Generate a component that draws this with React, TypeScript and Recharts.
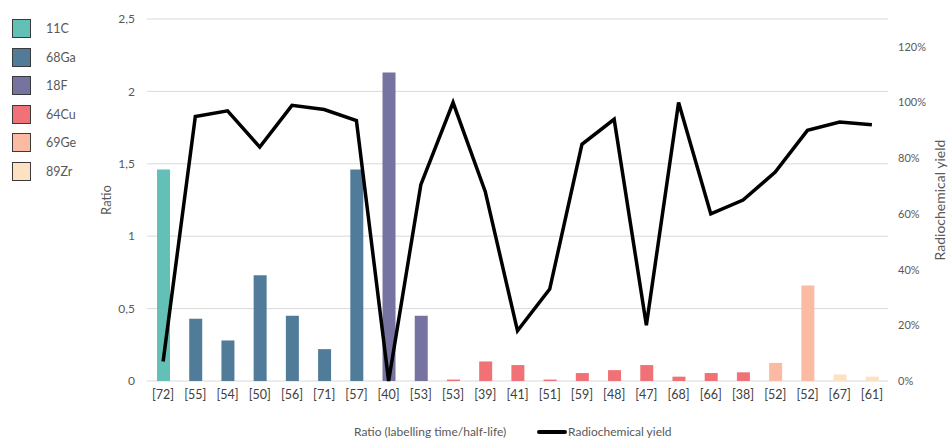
import React from 'react';
import { ComposedChart, Bar, Line, Cell, XAxis, YAxis, CartesianGrid } from 'recharts';

const categories = ['[72]', '[55]', '[54]', '[50]', '[56]', '[71]', '[57]', '[40]', '[53]', '[53]', '[39]', '[41]', '[51]', '[59]', '[48]', '[47]', '[68]', '[66]', '[38]', '[52]', '[52]', '[67]', '[61]'];
const isotopes = ['11C', '68Ga', '68Ga', '68Ga', '68Ga', '68Ga', '68Ga', '18F', '18F', '64Cu', '64Cu', '64Cu', '64Cu', '64Cu', '64Cu', '64Cu', '64Cu', '64Cu', '64Cu', '69Ge', '69Ge', '89Zr', '89Zr'];
const ratios = [1.46, 0.43, 0.28, 0.73, 0.45, 0.22, 1.46, 2.13, 0.45, 0.01, 0.135, 0.11, 0.01, 0.055, 0.075, 0.11, 0.03, 0.055, 0.06, 0.125, 0.66, 0.045, 0.03];
const yields = [0.07, 0.95, 0.97, 0.84, 0.99, 0.975, 0.935, 0, 0.705, 1.0, 0.68, 0.18, 0.33, 0.85, 0.94, 0.2, 1.0, 0.6, 0.65, 0.75, 0.9, 0.93, 0.92];

const legendIsotopes = ['11C', '68Ga', '18F', '64Cu', '69Ge', '89Zr'];
const isotopeColors: Record<string, string> = {
  '11C': '#63c0b6',
  '68Ga': '#517c99',
  '18F': '#7773a0',
  '64Cu': '#f07276',
  '69Ge': '#fbbba2',
  '89Zr': '#fde1c3',
};

const ratioTicks = [0, 0.5, 1, 1.5, 2, 2.5];
const yieldTicks = [0, 0.2, 0.4, 0.6, 0.8, 1.0, 1.2];

const data = categories.map((c, i) => ({
  name: c,
  ratio: ratios[i],
  yield: yields[i],
  isotope: isotopes[i],
}));

const font = 'Lato, "Open Sans", sans-serif';
const textGray = '#595959';

export default function App() {
  return (
    <div style={{ position: 'absolute', left: 0, top: 0, width: 950, height: 439, background: '#fff', fontFamily: font }}>
      <ComposedChart width={950} height={439} data={data} margin={{ top: 19, right: 0, left: 0, bottom: 0 }} barSize={13}>
        <CartesianGrid yAxisId='left' vertical={false} stroke='#d9d9d9' />
        <XAxis
          dataKey='name'
          height={58}
          axisLine={false}
          tickLine={false}
          interval={0}
          tickMargin={3}
          tick={{ fill: '#404040', fontSize: 12.5, fontFamily: font }}
        />
        <YAxis
          yAxisId='left'
          width={147}
          domain={[0, 2.5]}
          ticks={ratioTicks}
          axisLine={false}
          tickLine={false}
          tickMargin={6}
          tickFormatter={(v: number) => String(v).replace('.', ',')}
          tick={{ fill: textGray, fontSize: 12, fontFamily: font }}
          label={{ value: 'Ratio', angle: -90, position: 'insideLeft', offset: 106, style: { textAnchor: 'middle', fill: textGray, fontSize: 13, fontFamily: font } }}
        />
        <YAxis
          yAxisId='right'
          orientation='right'
          width={62}
          domain={[0, 1.3]}
          ticks={yieldTicks}
          axisLine={false}
          tickLine={false}
          tickMargin={4}
          tickFormatter={(v: number) => `${Math.round(v * 100)}%`}
          tick={{ fill: textGray, fontSize: 11, fontFamily: font }}
          label={{ value: 'Radiochemical yield', angle: -90, position: 'insideRight', offset: 10, style: { textAnchor: 'middle', fill: textGray, fontSize: 14, fontFamily: font } }}
        />
        <Bar yAxisId='left' dataKey='ratio' isAnimationActive={false}>
          {data.map((d, i) => (
            <Cell key={i} fill={isotopeColors[d.isotope]} />
          ))}
        </Bar>
        <Line yAxisId='right' type='linear' dataKey='yield' stroke='#000' strokeWidth={3.5} dot={false} activeDot={false} isAnimationActive={false} />
      </ComposedChart>

      {/* isotope legend, top left */}
      {legendIsotopes.map((iso, i) => (
        <div key={iso} style={{ position: 'absolute', left: 12, top: 19 + i * 28.5, display: 'flex', alignItems: 'center' }}>
          <div style={{ width: 17, height: 17, background: isotopeColors[iso], border: '1px solid #3a3a3a' }} />
          <span style={{ marginLeft: 15, fontSize: 12.5, color: textGray }}>{iso}</span>
        </div>
      ))}

      {/* bottom legend */}
      <div style={{ position: 'absolute', left: 354, top: 424, fontSize: 12, color: textGray, whiteSpace: 'nowrap' }}>
        Ratio (labelling time/half-life)
      </div>
      <div style={{ position: 'absolute', left: 537, top: 430, width: 30, height: 4, background: '#000', borderRadius: 2 }} />
      <div style={{ position: 'absolute', left: 568, top: 424, fontSize: 12, color: textGray, whiteSpace: 'nowrap' }}>
        Radiochemical yield
      </div>
    </div>
  );
}
